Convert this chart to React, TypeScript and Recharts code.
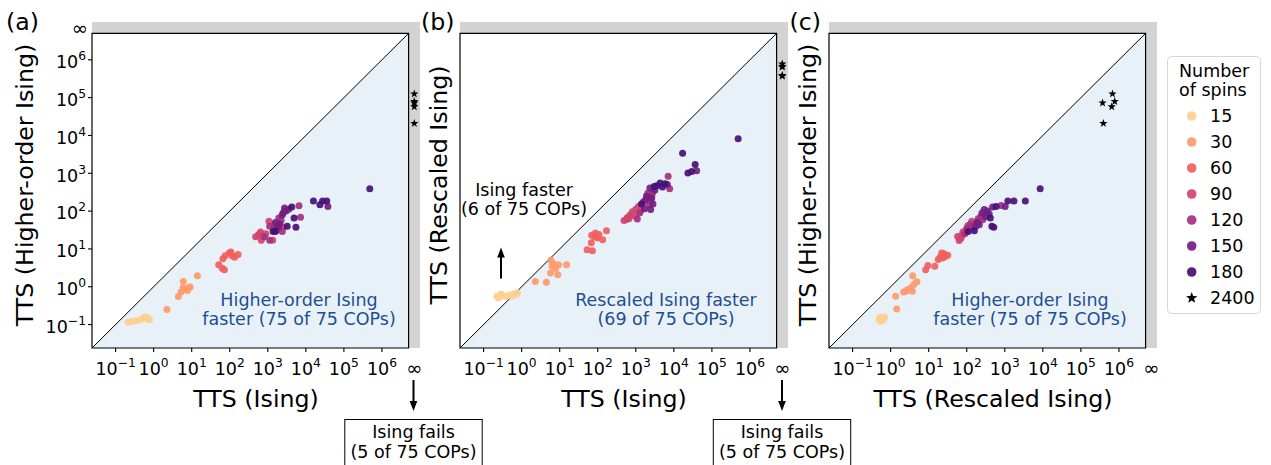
import React from 'react';
import { ScatterChart, Scatter, XAxis, YAxis, ReferenceArea, ReferenceLine, Legend } from 'recharts';

type Pt = [number, number];

const FONT = '"DejaVu Sans", Verdana, sans-serif';

// Axes are log10(TTS). The strip between EDGE and TOP holds runs that never found a solution (∞).
const LOW = -1.62;
const EDGE = 6.7;
const TOP = 7.0;
const INF = 6.85;
const DECADES = [-1, 0, 1, 2, 3, 4, 5, 6];
const TICKS = [...DECADES, INF];

const SPINS = ['15', '30', '60', '90', '120', '150', '180'];
const SPIN_COLORS = ['#fecf92', '#fd9b6b', '#f1605d', '#d3436e', '#a3307e', '#721f81', '#451077'];
const BIG_SPINS = '2400';
const LEGEND_ORDER = [...SPINS, BIG_SPINS];

const GRAY = '#d3d3d3';
const REGION_BLUE = '#e9f1f8';
const TEXT_BLUE = '#1c4f92';

// (a) log10 TTS: Ising (x) vs Higher-order Ising (y)
const a15: Pt[] = [[-0.67, -0.94], [-0.57, -0.91], [-0.46, -0.9], [-0.36, -0.88], [-0.27, -0.82], [-0.23, -0.8], [-0.19, -0.83], [-0.17, -0.85], [-0.11, -0.87], [-0.15, -0.82]];
const a30: Pt[] = [[0.35, -0.6], [0.65, -0.26], [0.72, -0.14], [0.77, -0.03], [0.78, 0.14], [0.83, -0.06], [0.89, -0.1], [0.93, -0.02], [0.96, -0.01], [1.15, 0.29]];
const a60: Pt[] = [[1.71, 0.58], [1.8, 0.49], [1.86, 0.45], [1.82, 0.74], [1.88, 0.82], [1.99, 0.89], [2.03, 0.92], [2.07, 0.81], [2.13, 0.78], [2.22, 0.85]];
const a90: Pt[] = [[2.68, 1.32], [2.76, 1.38], [2.83, 1.23], [2.81, 1.45], [3.03, 1.73], [3.13, 1.23], [3.18, 1.64], [3.25, 1.51], [3.41, 1.57], [2.95, 1.4]];
const a120: Pt[] = [[2.91, 1.32], [3.05, 1.6], [3.05, 1.23], [3.29, 1.82], [3.38, 1.46], [3.82, 2.14], [3.86, 1.84], [3.35, 1.75], [3.15, 1.55], [3.48, 2.0]];
const a150: Pt[] = [[3.31, 1.66], [3.38, 1.9], [3.44, 2.08], [3.45, 2.01], [4.58, 2.12], [3.4, 1.95], [3.25, 1.58], [3.55, 2.05], [3.2, 1.7], [3.28, 1.6]];
const a180: Pt[] = [[3.14, 1.46], [3.2, 1.46], [3.51, 1.6], [3.63, 2.11], [3.69, 1.82], [3.74, 1.57], [4.2, 2.27], [4.37, 2.17], [4.44, 2.27], [4.55, 2.27], [5.68, 2.59]];

// (b) log10 TTS: Ising (x) vs Rescaled Ising (y)
const b15: Pt[] = [[-0.65, -0.25], [-0.61, -0.3], [-0.54, -0.19], [-0.48, -0.24], [-0.43, -0.25], [-0.32, -0.22], [-0.26, -0.25], [-0.21, -0.19], [-0.14, -0.21], [-0.11, -0.16]];
const b30: Pt[] = [[0.36, 0.14], [0.65, 0.12], [0.76, 0.36], [0.77, 0.7], [0.8, 0.54], [0.84, 0.6], [0.89, 0.48], [0.95, 0.32], [0.97, 0.58], [1.18, 0.58]];
const b60: Pt[] = [[1.72, 0.98], [1.86, 0.95], [1.83, 1.16], [1.84, 1.36], [1.94, 1.42], [2.03, 1.38], [2.0, 1.29], [2.13, 1.24], [2.23, 1.48], [1.92, 1.32]];
const b90: Pt[] = [[2.69, 1.75], [2.78, 1.83], [2.85, 1.9], [2.91, 1.98], [3.07, 2.12], [3.13, 2.01], [2.75, 1.78], [2.95, 1.88], [3.0, 2.05], [2.82, 1.8]];
const b120: Pt[] = [[3.04, 1.79], [3.3, 2.35], [3.35, 2.17], [3.32, 2.48], [3.44, 2.48], [3.85, 2.92], [3.89, 2.59], [3.2, 2.25], [3.1, 1.95], [3.4, 2.3]];
const b150: Pt[] = [[3.23, 2.06], [3.39, 2.04], [3.37, 2.61], [3.45, 2.19], [3.83, 2.7], [4.6, 3.07], [3.28, 2.4], [3.5, 2.55], [3.26, 2.3], [3.42, 2.35]];
const b180: Pt[] = [[3.15, 2.19], [3.48, 2.65], [3.55, 2.67], [3.64, 2.74], [3.7, 2.64], [3.77, 2.72], [4.23, 3.53], [4.37, 3.01], [4.47, 3.05], [4.56, 3.23], [5.69, 3.91]];

// (c) log10 TTS: Rescaled Ising (x) vs Higher-order Ising (y)
const c15: Pt[] = [[-0.28, -0.8], [-0.22, -0.85], [-0.26, -0.91], [-0.18, -0.84], [-0.3, -0.86], [-0.24, -0.82], [-0.2, -0.88], [-0.27, -0.84], [-0.16, -0.81], [-0.23, -0.87]];
const c30: Pt[] = [[0.16, -0.59], [0.13, -0.25], [0.34, -0.14], [0.4, -0.12], [0.44, -0.08], [0.53, -0.03], [0.57, -0.12], [0.61, 0.06], [0.58, 0.29], [0.69, 0.13]];
const c60: Pt[] = [[0.92, 0.45], [0.98, 0.56], [1.16, 0.54], [1.25, 0.72], [1.3, 0.78], [1.34, 0.89], [1.4, 0.87], [1.43, 0.8], [1.5, 0.83], [1.37, 0.76]];
const c90: Pt[] = [[1.8, 1.22], [1.76, 1.33], [1.87, 1.36], [1.93, 1.42], [2.07, 1.6], [2.13, 1.73], [1.85, 1.28], [1.98, 1.5], [2.03, 1.62], [1.9, 1.45]];
const c120: Pt[] = [[2.01, 1.55], [2.37, 1.86], [2.42, 1.77], [2.9, 2.15], [2.1, 1.65], [2.25, 1.7], [2.3, 1.8], [2.15, 1.58], [1.95, 1.4], [2.5, 1.95]];
const c150: Pt[] = [[2.24, 1.6], [2.33, 1.64], [2.46, 2.04], [2.59, 1.92], [2.68, 2.11], [3.01, 2.12], [2.4, 1.95], [2.55, 2.0], [2.28, 1.7], [2.5, 1.85]];
const c180: Pt[] = [[2.04, 1.46], [2.2, 1.48], [2.62, 1.82], [2.66, 1.6], [2.71, 1.57], [2.77, 2.12], [3.08, 2.27], [3.24, 2.27], [3.54, 2.27], [3.93, 2.59]];

// 2400-spin problems: Ising never solves them; log10 TTS for the other two solvers
const rescaled2400 = [5.83, 5.57, 5.89, 5.81, 5.59];
const higher2400 = [5.1, 4.86, 4.9, 4.76, 4.32];

const starsA: Pt[] = higher2400.map((h) => [INF, h]);
const starsB: Pt[] = rescaled2400.map((r) => [INF, r]);
const starsC: Pt[] = rescaled2400.map((r, i) => [r, higher2400[i]]);

const superscript = (v: number) => (v < 0 ? `\u2212${-v}` : String(v));

function starPath(cx: number, cy: number, r: number) {
  const inner = r * 0.4;
  const pts: string[] = [];
  for (let k = 0; k < 10; k++) {
    const rad = k % 2 === 0 ? r : inner;
    const a = -Math.PI / 2 + (k * Math.PI) / 5;
    pts.push(`${(cx + rad * Math.cos(a)).toFixed(2)},${(cy + rad * Math.sin(a)).toFixed(2)}`);
  }
  return `M${pts.join('L')}Z`;
}

const XTick = (props: any) => {
  const { x, y, payload } = props;
  const v = payload.value;
  if (v === INF) {
    return (
      <text x={x} y={y + 27} textAnchor="middle" fontSize={19.5} fontFamily={FONT} fill="#000">∞</text>
    );
  }
  return (
    <g>
      <line x1={x} x2={x} y1={y} y2={y + 4} stroke="#000" strokeWidth={1.1} />
      <text x={x} y={y + 27} textAnchor="middle" fontSize={17.5} fontFamily={FONT} fill="#000">
        <tspan>10</tspan>
        <tspan dy={-8} fontSize={12.3}>{superscript(v)}</tspan>
      </text>
    </g>
  );
};

const YTick = (props: any) => {
  const { x, y, payload } = props;
  const v = payload.value;
  if (v === INF) {
    return (
      <text x={x - 4} y={y + 7} textAnchor="end" fontSize={19.5} fontFamily={FONT} fill="#000">∞</text>
    );
  }
  return (
    <g>
      <line x1={x - 4} x2={x} y1={y} y2={y} stroke="#000" strokeWidth={1.1} />
      <text x={x - 6} y={y + 8.3} textAnchor="end" fontSize={17.5} fontFamily={FONT} fill="#000">
        <tspan>10</tspan>
        <tspan dy={-8} fontSize={12.3}>{superscript(v)}</tspan>
      </text>
    </g>
  );
};

const xTitle = (title: string) => (props: any) => {
  const vb = props.viewBox || {};
  return (
    <text x={vb.x + vb.width / 2} y={vb.y + 59} textAnchor="middle" fontSize={23.7} fontFamily={FONT} fill="#000">
      {title}
    </text>
  );
};

const yTitle = (title: string, gap: number) => (props: any) => {
  const vb = props.viewBox || {};
  const cx = vb.x + vb.width - gap;
  const cy = vb.y + vb.height / 2;
  return (
    <text x={cx} y={cy} transform={`rotate(-90 ${cx} ${cy})`} textAnchor="middle" fontSize={23.7} fontFamily={FONT} fill="#000">
      {title}
    </text>
  );
};

const lowerTriangle = (props: any) => {
  const { x, y, width, height } = props;
  return <polygon points={`${x},${y + height} ${x + width},${y + height} ${x + width},${y}`} fill={REGION_BLUE} />;
};

const dotShape = (color: string) => (props: any) => (
  <circle cx={props.cx} cy={props.cy} r={3.5} fill={color} fillOpacity={0.92} />
);

const starShape = (props: any) => <path d={starPath(props.cx, props.cy, 4.4)} fill="#000" />;

const legendContent = (props: any) => {
  const items = [...(props.payload || [])].sort(
    (p: any, q: any) => LEGEND_ORDER.indexOf(String(p.value)) - LEGEND_ORDER.indexOf(String(q.value)),
  );
  return (
    <svg width={94} height={258} style={{ display: 'block' }} fontFamily={FONT}>
      <rect x={0.5} y={0.5} width={93} height={257} rx={4} fill="#fff" stroke="#d6d6d6" />
      <text x={12} y={20.5} fontSize={17.5} fill="#000">Number</text>
      <text x={12} y={40} fontSize={17.5} fill="#000">of spins</text>
      {items.map((it: any, i: number) => {
        const cy = 60 + 26 * i;
        return (
          <g key={String(it.value)}>
            {it.type === 'star' ? (
              <path d={starPath(24.7, cy, 6)} fill="#000" />
            ) : (
              <circle cx={24.7} cy={cy} r={4.8} fill={it.color} fillOpacity={0.92} />
            )}
            <text x={43} y={cy + 6.3} fontSize={17.5} fill="#000">{it.value}</text>
          </g>
        );
      })}
    </svg>
  );
};

type PanelProps = {
  left: number;
  width: number;
  rightMargin: number;
  groups: Pt[][];
  stars: Pt[];
  xLabel: string;
  yLabel: string;
  yTicks: boolean;
  yGap: number;
  legend?: boolean;
};

function Panel({ left, width, rightMargin, groups, stars, xLabel, yLabel, yTicks, yGap, legend }: PanelProps) {
  return (
    <div style={{ position: 'absolute', left, top: 0 }}>
      <ScatterChart width={width} height={465} margin={{ top: 22, right: rightMargin, bottom: 67, left: 0 }}>
        <XAxis
          type="number"
          dataKey="x"
          domain={[LOW, TOP]}
          allowDataOverflow
          ticks={TICKS}
          interval={0}
          tick={XTick}
          tickLine={false}
          axisLine={false}
          tickSize={0}
          tickMargin={0}
          height={50}
          label={xTitle(xLabel)}
        />
        <YAxis
          type="number"
          dataKey="y"
          domain={[LOW, TOP]}
          allowDataOverflow
          ticks={TICKS}
          interval={0}
          tick={yTicks ? YTick : false}
          tickLine={false}
          axisLine={false}
          tickSize={0}
          tickMargin={0}
          width={92}
          label={yTitle(yLabel, yGap)}
        />
        <ReferenceArea x1={LOW} x2={TOP} y1={LOW} y2={TOP} fill={GRAY} fillOpacity={1} stroke="none" ifOverflow="visible" />
        <ReferenceArea x1={LOW} x2={EDGE} y1={LOW} y2={EDGE} fill="#fff" fillOpacity={1} stroke="none" ifOverflow="visible" />
        <ReferenceArea x1={LOW} x2={EDGE} y1={LOW} y2={EDGE} shape={lowerTriangle} ifOverflow="visible" />
        <ReferenceLine segment={[{ x: LOW, y: LOW }, { x: EDGE, y: EDGE }]} stroke="#000" strokeWidth={1} ifOverflow="visible" />
        <ReferenceArea x1={LOW} x2={EDGE} y1={LOW} y2={EDGE} fill="none" fillOpacity={0} stroke="#000" strokeWidth={1.2} ifOverflow="visible" />
        {groups.map((g, i) => (
          <Scatter
            key={SPINS[i]}
            name={SPINS[i]}
            data={g.map(([x, y]) => ({ x, y }))}
            fill={SPIN_COLORS[i]}
            shape={dotShape(SPIN_COLORS[i])}
            legendType="circle"
            isAnimationActive={false}
          />
        ))}
        <Scatter
          name={BIG_SPINS}
          data={stars.map(([x, y]) => ({ x, y }))}
          fill="#000"
          shape={starShape}
          legendType="star"
          isAnimationActive={false}
        />
        {legend && (
          <Legend
            layout="vertical"
            align="center"
            verticalAlign="middle"
            content={legendContent}
            wrapperStyle={{ left: 430, top: 56, width: 94, height: 258 }}
          />
        )}
      </ScatterChart>
    </div>
  );
}

function Arrow({ x, from, to }: { x: number; from: number; to: number }) {
  const dir = to > from ? 1 : -1;
  const headStart = to - dir * 10;
  return (
    <g>
      <line x1={x} x2={x} y1={from} y2={headStart + dir * 1} stroke="#000" strokeWidth={2} />
      <polygon points={`${x},${to} ${x - 3.8},${headStart} ${x + 3.8},${headStart}`} fill="#000" />
    </g>
  );
}

function FailBox({ cx }: { cx: number }) {
  return (
    <g>
      <rect x={cx - 68.7} y={419.5} width={137.4} height={60} fill="#fff" stroke="#000" strokeWidth={1} />
      <text x={cx} y={438.3} textAnchor="middle" fontSize={17.5} fill="#000">Ising fails</text>
      <text x={cx} y={458} textAnchor="middle" fontSize={17.5} fill="#000">(5 of 75 COPs)</text>
    </g>
  );
}

export default function App() {
  return (
    <div
      style={{
        position: 'absolute',
        left: 0,
        top: 0,
        width: 1271,
        height: 465,
        background: '#fff',
        fontFamily: FONT,
        overflow: 'hidden',
      }}
    >
      <Panel
        left={0}
        width={440}
        rightMargin={20}
        groups={[a15, a30, a60, a90, a120, a150, a180]}
        stars={starsA}
        xLabel="TTS (Ising)"
        yLabel="TTS (Higher-order Ising)"
        yTicks
        yGap={59}
      />
      <Panel
        left={368}
        width={440}
        rightMargin={20}
        groups={[b15, b30, b60, b90, b120, b150, b180]}
        stars={starsB}
        xLabel="TTS (Ising)"
        yLabel="TTS (Rescaled Ising)"
        yTicks={false}
        yGap={13.5}
      />
      <Panel
        left={737}
        width={534}
        rightMargin={114}
        groups={[c15, c30, c60, c90, c120, c150, c180]}
        stars={starsC}
        xLabel="TTS (Rescaled Ising)"
        yLabel="TTS (Higher-order Ising)"
        yTicks={false}
        yGap={13.5}
        legend
      />
      <svg
        width={1271}
        height={465}
        style={{ position: 'absolute', left: 0, top: 0, pointerEvents: 'none' }}
        fontFamily={FONT}
      >
        <text x={6} y={30} fontSize={23.7} fill="#000">(a)</text>
        <text x={421} y={30} fontSize={23.7} fill="#000">(b)</text>
        <text x={789.5} y={30} fontSize={23.7} fill="#000">(c)</text>

        <text x={299} y={305.5} textAnchor="middle" fontSize={17.5} fill={TEXT_BLUE}>Higher-order Ising</text>
        <text x={299} y={324.5} textAnchor="middle" fontSize={17.5} fill={TEXT_BLUE}>faster (75 of 75 COPs)</text>

        <text x={666} y={305.5} textAnchor="middle" fontSize={17.5} fill={TEXT_BLUE}>Rescaled Ising faster</text>
        <text x={666} y={324.5} textAnchor="middle" fontSize={17.5} fill={TEXT_BLUE}>(69 of 75 COPs)</text>

        <text x={524} y={196} textAnchor="middle" fontSize={17.5} fill="#000">Ising faster</text>
        <text x={524} y={215} textAnchor="middle" fontSize={17.5} fill="#000">(6 of 75 COPs)</text>
        <Arrow x={501} from={278.5} to={247.5} />

        <text x={1030} y={305.5} textAnchor="middle" fontSize={17.5} fill={TEXT_BLUE}>Higher-order Ising</text>
        <text x={1030} y={324.5} textAnchor="middle" fontSize={17.5} fill={TEXT_BLUE}>faster (75 of 75 COPs)</text>

        <Arrow x={413.5} from={380} to={411} />
        <FailBox cx={413.5} />
        <Arrow x={782} from={380} to={411} />
        <FailBox cx={782} />
      </svg>
    </div>
  );
}
